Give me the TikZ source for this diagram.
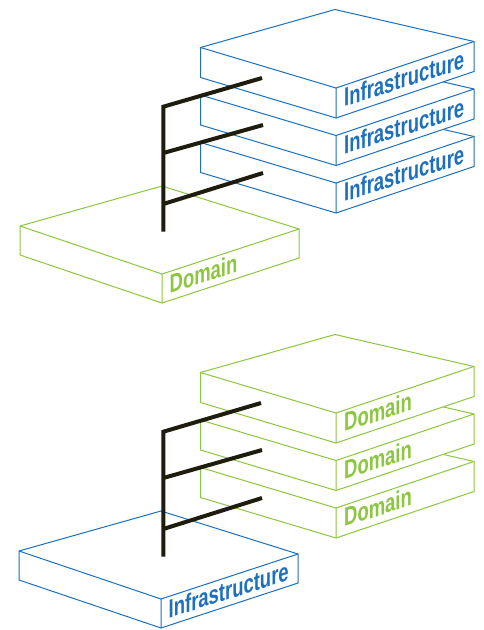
\documentclass[tikz,border=0pt]{standalone}
\usepackage{fontspec}
\newfontfamily\slabfont[FakeStretch=0.71]{Liberation Sans}
\definecolor{infrablue}{RGB}{28,112,190}
\definecolor{domaingreen}{RGB}{141,198,63}
\definecolor{branchblack}{RGB}{30,28,12}
\tikzstyle{slab}=[line width=1pt, line join=miter]
\tikzstyle{slabtext}=[inner sep=0, anchor=base west, yslant=0.32,
                      font=\slabfont\bfseries\fontsize{26}{26}\selectfont]
\tikzstyle{branch}=[draw=branchblack, line width=4pt]
% thin slab of a stack: colour, back corner, name, text
\newcommand{\stackslab}[4]{%
  \begin{scope}[shift={#2}]
    \filldraw[slab, draw=#1, fill=white] (-134.5,38) -- (0,0) -- (139,32) -- (139,62) -- (1,108.5) -- (-134.5,68) -- cycle;
    \draw[slab, draw=#1] (-134.5,38) -- (1,78.5) -- (139,32) (1,78.5) -- (1,108.5);
    \node[slabtext, text=#1] (#3) at (9,97.5) {#4};
  \end{scope}}
% wide slab the stem stands on
\newcommand{\baseslab}[4]{%
  \begin{scope}[shift={#2}]
    \filldraw[slab, draw=#1, fill=white] (-142,40) -- (0,0) -- (137,43) -- (137,72) -- (0,117) -- (-142,69) -- cycle;
    \draw[slab, draw=#1] (-142,40) -- (0,88) -- (137,43) (0,88) -- (0,117);
    \node[slabtext, text=#1] (#3) at (7.5,107.5) {#4};
  \end{scope}}

\begin{document}
\begin{tikzpicture}[x=1pt, y=-1pt]
    \useasboundingbox (0,0) rectangle (484,630);
    % domain over infrastructure
    \stackslab{infrablue}{(335,104.5)}{infraC}{Infrastructure}
    \stackslab{infrablue}{(335,57)}{infraB}{Infrastructure}
    \stackslab{infrablue}{(335,9.5)}{infraA}{Infrastructure}
    \baseslab{domaingreen}{(162,186)}{domain}{Domain}
    \coordinate (stemtop) at (163.3,106.7);
    \coordinate (stembot) at (163.3,231.7);
    \coordinate (fork2) at (163.3,153);
    \coordinate (fork3) at (163.3,204);
    \coordinate (arm1) at (262,78);
    \coordinate (arm2) at (263,125);
    \coordinate (arm3) at (263,173);
    \draw[branch] (arm1) -- (stemtop) -- (stembot);
    \draw[branch] (fork2) -- (arm2);
    \draw[branch] (fork3) -- (arm3);
    % infrastructure under domain
    \begin{scope}[shift={(0,325)}]
        \stackslab{domaingreen}{(335,104.5)}{domainC}{Domain}
        \stackslab{domaingreen}{(335,57)}{domainB}{Domain}
        \stackslab{domaingreen}{(335,9.5)}{domainA}{Domain}
        \baseslab{infrablue}{(161,186)}{infra}{Infrastructure}
        \coordinate (stemtop') at (163.3,106.7);
        \coordinate (stembot') at (163.3,231.7);
        \coordinate (fork2') at (163.3,153);
        \coordinate (fork3') at (163.3,204);
        \coordinate (arm1') at (261,78);
        \coordinate (arm2') at (262,125);
        \coordinate (arm3') at (262,173);
        \draw[branch] (arm1') -- (stemtop') -- (stembot');
        \draw[branch] (fork2') -- (arm2');
        \draw[branch] (fork3') -- (arm3');
    \end{scope}
\end{tikzpicture}
\end{document}
